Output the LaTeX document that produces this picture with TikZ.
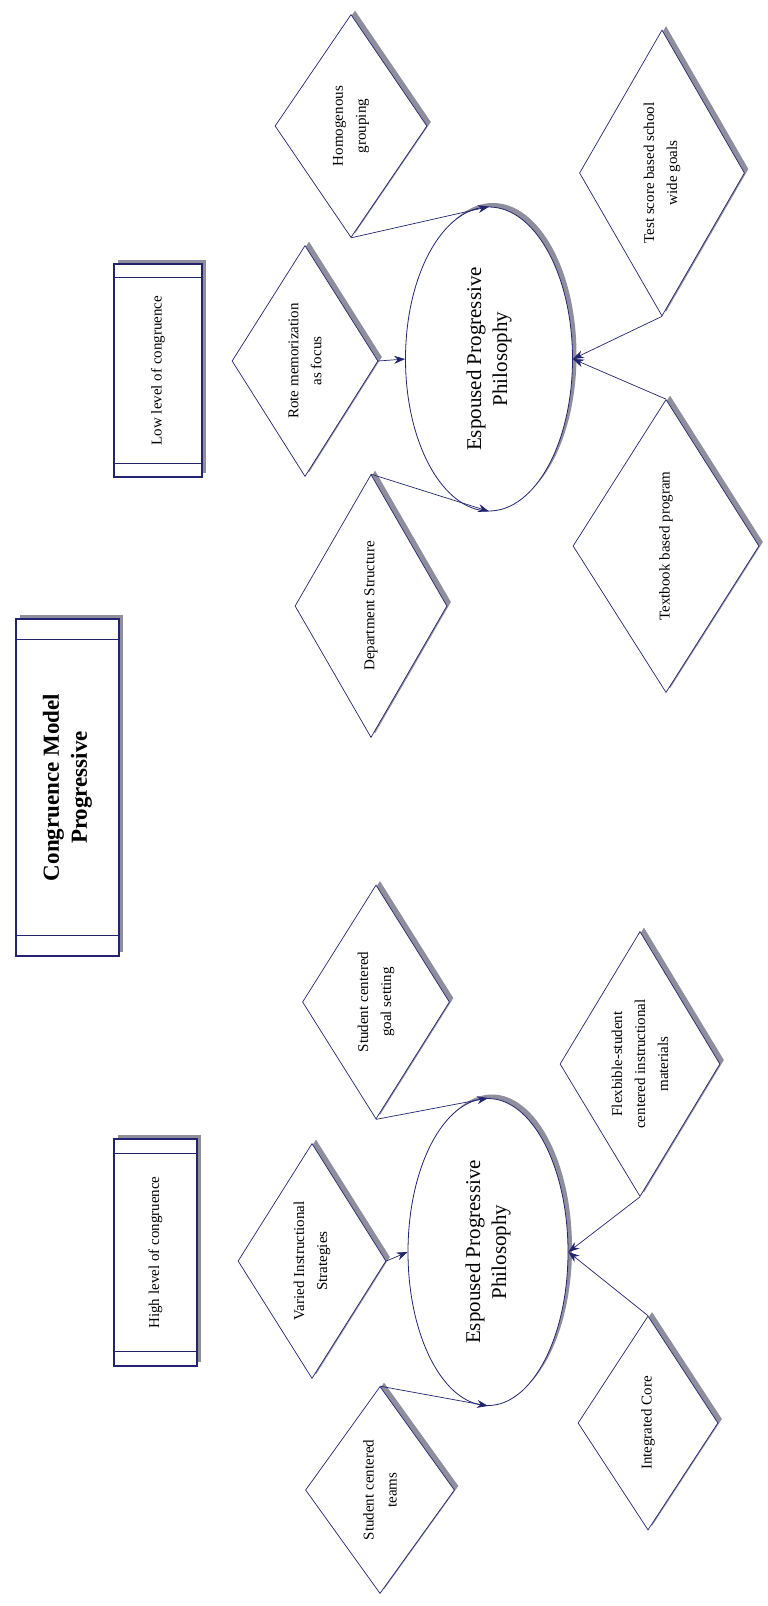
\documentclass[tikz,border=0pt]{standalone}
\usepackage{fontspec}
\setmainfont{Liberation Serif}
\usetikzlibrary{shapes.geometric,arrows.meta,shadows}
\definecolor{marino}{HTML}{23236E}
\definecolor{sombra}{HTML}{8E8E9C}
\tikzset{
  sombreado/.style={drop shadow={shadow xshift=4pt,shadow yshift=4pt,fill=sombra,opacity=1}},
  rombo/.style={diamond,draw=marino,line width=0.7pt,fill=white,rotate=90,shape aspect=1.5,inner sep=1pt,align=center,font=\fontsize{15}{23}\selectfont,sombreado},
  elipse/.style={ellipse,draw=marino,line width=0.8pt,fill=white,rotate=90,inner sep=1pt,align=center,font=\fontsize{21}{26}\selectfont,sombreado},
  marco/.style={rectangle,draw=marino,line width=1.3pt,fill=white,rotate=90,inner sep=2pt,align=center,font=\fontsize{15}{20}\selectfont,sombreado},
  flecha/.style={-{Stealth[length=11pt,width=8pt]},marino,line width=0.7pt},
}

\begin{document}
\begin{tikzpicture}[x=1pt,y=-1pt]
  \useasboundingbox (0,0) rectangle (768,1606);
  % low congruence side
  \node[marco,minimum width=213pt,minimum height=88pt] (low) at (158,370.5) {Low level of congruence};
  \node[rombo,minimum width=223pt,minimum height=152pt] (homog) at (351,126) {Homogenous\\grouping};
  \node[rombo,minimum width=286pt,minimum height=165pt] (test) at (662,173) {Test score based school\\wide goals};
  \node[rombo,minimum width=231pt,minimum height=146pt] (rote) at (305,361) {Rote memorization\\as focus};
  \node[rombo,minimum width=263pt,minimum height=152pt] (dept) at (371,606) {Department Structure};
  \node[rombo,minimum width=293pt,minimum height=186pt] (textbook) at (666,546) {Textbook based program};
  \node[elipse,minimum width=304pt,minimum height=167pt] (elow) at (489,359) {Espoused Progressive\\Philosophy};
  \draw[flecha] (homog.west) -- (elow.east);
  \draw[flecha] (rote.south) -- (elow.north);
  \draw[flecha] (test.west) -- (elow.south);
  \draw[flecha] (textbook.east) -- (elow.south);
  \draw[flecha] (dept.east) -- (elow.west);
  % title
  \node[marco,minimum width=337pt,minimum height=103pt,font=\fontsize{23}{28}\selectfont\bfseries] (titulo) at (67.5,787.5) {Congruence Model\\Progressive};
  % high congruence side
  \node[marco,minimum width=227pt,minimum height=83pt] (high) at (155.5,1252.5) {High level of congruence};
  \node[rombo,minimum width=234pt,minimum height=147pt] (goal) at (376,1002) {Student centered\\goal setting};
  \node[rombo,minimum width=265pt,minimum height=160pt] (flex) at (640,1064) {Flexbible-student\\centered instructional\\materials};
  \node[rombo,minimum width=235pt,minimum height=148pt] (varied) at (312,1261) {Varied Instructional\\Strategies};
  \node[rombo,minimum width=207pt,minimum height=149pt] (teams) at (380,1490) {Student centered\\teams};
  \node[rombo,minimum width=214pt,minimum height=140pt] (integ) at (648,1423) {Integrated Core};
  \node[elipse,minimum width=307pt,minimum height=160pt] (ehigh) at (488,1252) {Espoused Progressive\\Philosophy};
  \draw[flecha] (goal.west) -- (ehigh.east);
  \draw[flecha] (varied.south) -- (ehigh.north);
  \draw[flecha] (teams.east) -- (ehigh.west);
  \draw[flecha] (flex.west) -- (ehigh.south);
  \draw[flecha] (integ.east) -- (ehigh.south);
  % inner bars of the boxes
  \foreach \b/\d in {low/14,titulo/21,high/15}{
    \draw[marino,line width=1pt] ([yshift=-\d pt]\b.north east) -- ([yshift=-\d pt]\b.south east);
    \draw[marino,line width=1pt] ([yshift=\d pt]\b.north west) -- ([yshift=\d pt]\b.south west);
  }
\end{tikzpicture}
\end{document}
